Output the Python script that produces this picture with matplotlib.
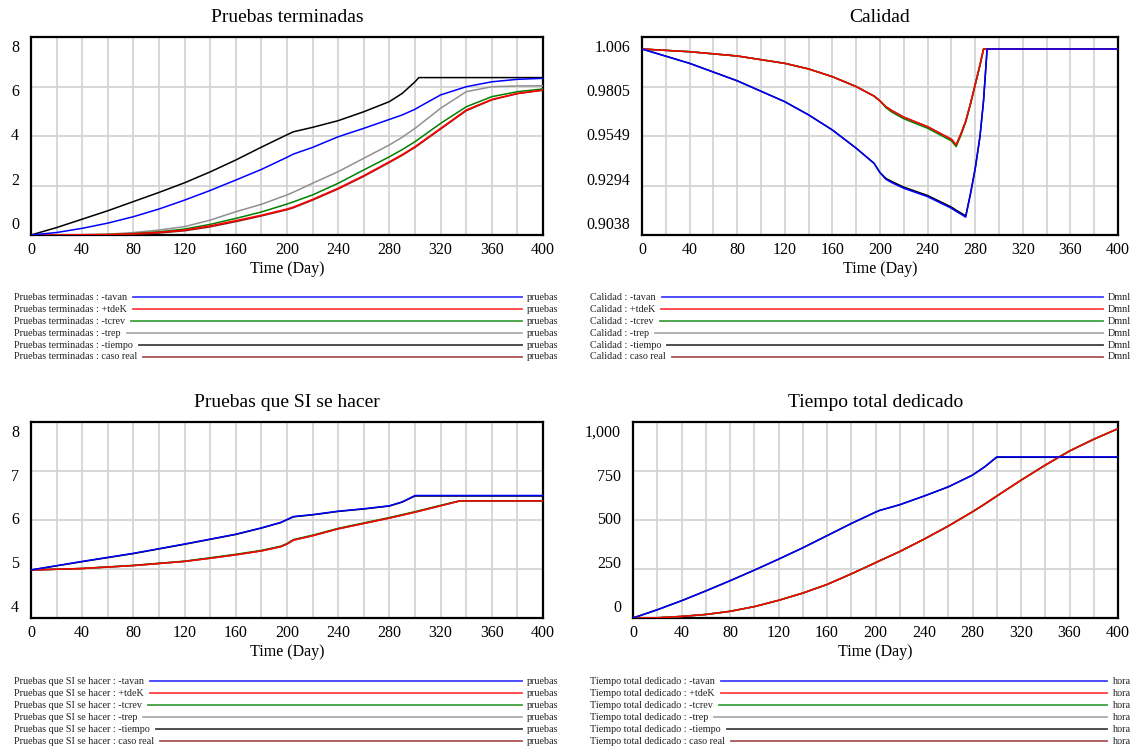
import matplotlib
matplotlib.use('Agg')
import matplotlib.pyplot as plt
from matplotlib.ticker import MultipleLocator

plt.rcParams['font.family'] = ['Liberation Serif', 'DejaVu Serif']

W, H = 1135, 749

series = ['-tavan', '+tdeK', '-tcrev', '-trep', '-tiempo', 'caso real']
colors = ['#0000ff', '#ff0000', '#008000', '#909090', '#000000', '#8b1a1a']
xticks = [0, 40, 80, 120, 160, 200, 240, 280, 320, 360, 400]

# --- Pruebas terminadas ---
pt_t = [0, 20, 40, 60, 80, 100, 120, 140, 160, 180, 200, 205, 220, 240, 260, 280, 290, 300, 303, 320, 340, 360, 380, 400]
pt_tavan = [0, 0.1, 0.27, 0.48, 0.74, 1.05, 1.41, 1.8, 2.22, 2.65, 3.14, 3.27, 3.54, 3.97, 4.31, 4.67, 4.85, 5.08, 5.17, 5.66, 5.99, 6.19, 6.29, 6.33]
pt_tdek = [0, 0, 0.01, 0.02, 0.05, 0.11, 0.2, 0.37, 0.58, 0.8, 1.05, 1.13, 1.44, 1.89, 2.4, 2.96, 3.25, 3.57, 3.68, 4.31, 5.05, 5.48, 5.72, 5.86]
pt_tcrev = [0, 0, 0.01, 0.02, 0.06, 0.13, 0.24, 0.43, 0.67, 0.93, 1.25, 1.34, 1.62, 2.09, 2.63, 3.16, 3.45, 3.77, 3.88, 4.51, 5.18, 5.59, 5.79, 5.9]
pt_trep = [0, 0, 0.01, 0.03, 0.1, 0.2, 0.34, 0.6, 0.94, 1.24, 1.62, 1.73, 2.09, 2.56, 3.1, 3.64, 3.95, 4.31, 4.43, 5.12, 5.79, 5.99, 6.02, 6.03]
pt_tiempo = [0, 0.3, 0.64, 0.98, 1.35, 1.72, 2.11, 2.55, 3.03, 3.55, 4.05, 4.17, 4.35, 4.62, 4.98, 5.39, 5.72, 6.19, 6.36, 6.36, 6.36, 6.36, 6.36, 6.36]
pt_real = [0, 0, 0, 0.01, 0.03, 0.08, 0.17, 0.33, 0.54, 0.77, 1.02, 1.1, 1.41, 1.86, 2.37, 2.93, 3.22, 3.54, 3.65, 4.28, 5.02, 5.46, 5.71, 5.85]

# --- Calidad ---
cal_t = [0, 40, 80, 120, 140, 160, 180, 195, 200, 205, 210, 220, 240, 260, 264, 268, 272, 276, 280, 284, 287, 290, 400]
cal_tavan = [0.9998, 0.9924, 0.9834, 0.9726, 0.9658, 0.958, 0.9486, 0.9408, 0.936, 0.9325, 0.9308, 0.9279, 0.9236, 0.9176, 0.916, 0.9146, 0.913, 0.925, 0.938, 0.9546, 0.973, 0.9998, 0.9998]
cal_tdek = [0.9998, 0.9984, 0.9962, 0.9924, 0.9895, 0.9855, 0.9804, 0.9755, 0.973, 0.97, 0.968, 0.9646, 0.9597, 0.9532, 0.9503, 0.956, 0.9625, 0.9715, 0.9815, 0.9915, 0.9998, 0.9998, 0.9998]
cal_tcrev = [0.9998, 0.9984, 0.9962, 0.9924, 0.9895, 0.9855, 0.9804, 0.9755, 0.973, 0.9695, 0.9672, 0.9638, 0.9589, 0.9524, 0.9494, 0.9553, 0.962, 0.9712, 0.9813, 0.9914, 0.9998, 0.9998, 0.9998]
cal_trep = [0.9998, 0.9984, 0.9962, 0.9924, 0.9895, 0.9855, 0.9804, 0.9755, 0.973, 0.97, 0.968, 0.9646, 0.9597, 0.9532, 0.9503, 0.956, 0.9625, 0.9715, 0.9815, 0.9915, 0.9998, 0.9998, 0.9998]
cal_tiempo = [0.9998, 0.9924, 0.9834, 0.9726, 0.9658, 0.958, 0.9486, 0.9408, 0.936, 0.933, 0.9314, 0.9285, 0.9242, 0.9182, 0.9166, 0.9152, 0.9136, 0.925, 0.938, 0.9546, 0.973, 0.9998, 0.9998]
cal_real = [0.9998, 0.9984, 0.9962, 0.9924, 0.9895, 0.9855, 0.9804, 0.9755, 0.973, 0.97, 0.968, 0.9646, 0.9597, 0.9532, 0.9503, 0.956, 0.9625, 0.9715, 0.9815, 0.9915, 0.9998, 0.9998, 0.9998]

# --- Pruebas que SI se hacer ---
ps_t = [0, 40, 80, 120, 140, 160, 180, 195, 200, 205, 220, 240, 260, 280, 290, 300, 320, 335, 360, 400]
ps_tavan = [4.98, 5.155, 5.32, 5.51, 5.61, 5.71, 5.84, 5.95, 6.01, 6.07, 6.11, 6.18, 6.23, 6.29, 6.37, 6.5, 6.5, 6.5, 6.5, 6.5]
ps_tdek = [4.98, 5.01, 5.07, 5.155, 5.22, 5.29, 5.37, 5.455, 5.51, 5.59, 5.68, 5.82, 5.93, 6.04, 6.1, 6.16, 6.29, 6.39, 6.39, 6.39]
ps_tcrev = [4.98, 5.01, 5.075, 5.16, 5.23, 5.3, 5.38, 5.465, 5.52, 5.6, 5.69, 5.83, 5.94, 6.05, 6.11, 6.17, 6.3, 6.39, 6.39, 6.39]
ps_trep = [4.98, 5.01, 5.07, 5.155, 5.22, 5.29, 5.37, 5.455, 5.51, 5.59, 5.68, 5.82, 5.93, 6.04, 6.1, 6.16, 6.29, 6.39, 6.39, 6.39]
ps_tiempo = [4.98, 5.15, 5.315, 5.505, 5.605, 5.705, 5.835, 5.945, 6.005, 6.065, 6.105, 6.175, 6.225, 6.285, 6.365, 6.49, 6.49, 6.49, 6.49, 6.49]
ps_real = [4.98, 5.01, 5.07, 5.155, 5.22, 5.29, 5.37, 5.455, 5.51, 5.59, 5.68, 5.82, 5.93, 6.04, 6.1, 6.16, 6.29, 6.39, 6.39, 6.39]

# --- Tiempo total dedicado ---
tt_t = [0, 20, 40, 60, 80, 100, 120, 140, 160, 180, 200, 203, 220, 240, 260, 280, 290, 300, 320, 340, 360, 380, 400]
tt_tavan = [0, 42, 88, 138, 190, 244, 300, 358, 420, 482, 540, 548, 578, 622, 669, 729, 771, 822, 822, 822, 822, 822, 822]
tt_tdek = [0, 1, 8, 18, 34, 58, 90, 127, 171, 225, 282, 291, 339, 402, 469, 542, 581, 622, 703, 780, 852, 912, 966]
tt_tcrev = [0, 1, 8, 18, 34, 58, 90, 127, 171, 225, 282, 291, 339, 402, 469, 542, 581, 622, 703, 780, 852, 912, 966]
tt_trep = [0, 1, 8, 18, 34, 58, 90, 127, 171, 225, 282, 291, 339, 402, 469, 542, 581, 622, 703, 780, 852, 912, 966]
tt_tiempo = [0, 42, 88, 138, 190, 244, 300, 358, 420, 482, 540, 548, 578, 622, 669, 729, 771, 820, 820, 820, 820, 820, 820]
tt_real = [0, 1, 8, 18, 34, 58, 90, 127, 171, 225, 282, 291, 339, 402, 469, 542, 581, 622, 703, 780, 852, 912, 966]

charts = [
    dict(title='Pruebas terminadas', unit='pruebas', t=pt_t,
         ys=[pt_tavan, pt_tdek, pt_tcrev, pt_trep, pt_tiempo, pt_real],
         ylim=(0, 8), ylabels=['8', '6', '4', '2', '0'],
         box=(31, 37, 543, 235), leg_x=(14, 522, 558), leg_y=297),
    dict(title='Calidad', unit='Dmnl', t=cal_t,
         ys=[cal_tavan, cal_tdek, cal_tcrev, cal_trep, cal_tiempo, cal_real],
         ylim=(0.9038, 1.006), ylabels=['1.006', '0.9805', '0.9549', '0.9294', '0.9038'],
         box=(642, 37, 1118, 235), leg_x=(590, 1103, 1131), leg_y=297),
    dict(title='Pruebas que SI se hacer', unit='pruebas', t=ps_t,
         ys=[ps_tavan, ps_tdek, ps_tcrev, ps_trep, ps_tiempo, ps_real],
         ylim=(4, 8), ylabels=['8', '7', '6', '5', '4'],
         box=(31, 422, 543, 618), leg_x=(14, 522, 558), leg_y=681),
    dict(title='Tiempo total dedicado', unit='hora', t=tt_t,
         ys=[tt_tavan, tt_tdek, tt_tcrev, tt_trep, tt_tiempo, tt_real],
         ylim=(0, 1000), ylabels=['1,000', '750', '500', '250', '0'],
         box=(633, 422, 1118, 618), leg_x=(590, 1107, 1131), leg_y=681),
]

fig = plt.figure(figsize=(W / 100, H / 100), dpi=100)
fig.canvas.draw()
renderer = fig.canvas.get_renderer()

for c in charts:
    x0, y0, x1, y1 = c['box']
    ax = fig.add_axes([x0 / W, 1 - y1 / H, (x1 - x0) / W, (y1 - y0) / H])
    # vensim draws the first series on top
    for i in reversed(range(len(series))):
        ax.plot(c['t'], c['ys'][i], color=colors[i], lw=1.1, zorder=3 + (6 - i))
    lo, hi = c['ylim']
    ax.set_xlim(0, 400)
    ax.set_ylim(lo, hi)
    ax.set_xticks(xticks)
    ax.xaxis.set_minor_locator(MultipleLocator(20))
    ax.set_yticks([lo + (hi - lo) * k / 4 for k in range(5)])
    ax.set_yticklabels([])
    ax.grid(True, which='both', color='#d4d4d4', lw=1.3, zorder=0)
    ax.tick_params(which='both', length=0, labelsize=11.5, pad=5)
    for s in ax.spines.values():
        s.set_linewidth(1.6)
    ax.set_title(c['title'], fontsize=14, pad=10.5)
    ax.set_xlabel('Time (Day)', fontsize=11.5, labelpad=2)
    # y labels spread evenly, pulled inside the top and bottom edges
    hpx = y1 - y0
    top_f, bot_f = 1 - 11 / hpx, 10 / hpx
    for k, lab in enumerate(c['ylabels']):
        yf = top_f + (bot_f - top_f) * k / 4
        ax.text(-12 / (x1 - x0), yf, lab, transform=ax.transAxes,
                ha='right', va='center', fontsize=11.5)
    # legend rows
    lx, lend, ux = c['leg_x']
    for i, name in enumerate(series):
        ypx = c['leg_y'] + 12 * i
        yf = 1 - ypx / H
        t = fig.text(lx / W, yf, f"{c['title']} : {name}", fontsize=7.3,
                     ha='left', va='center', color='#222222')
        fig.text(ux / W, yf, c['unit'], fontsize=7.3, ha='right', va='center',
                 color='#222222')
        ext = t.get_window_extent(renderer)
        xs = (ext.x1 + 6) / W
        fig.add_artist(plt.Line2D([xs, lend / W], [yf, yf], color=colors[i],
                                  lw=1.3, alpha=0.75, transform=fig.transFigure))

fig.savefig('out.png', dpi=100)
